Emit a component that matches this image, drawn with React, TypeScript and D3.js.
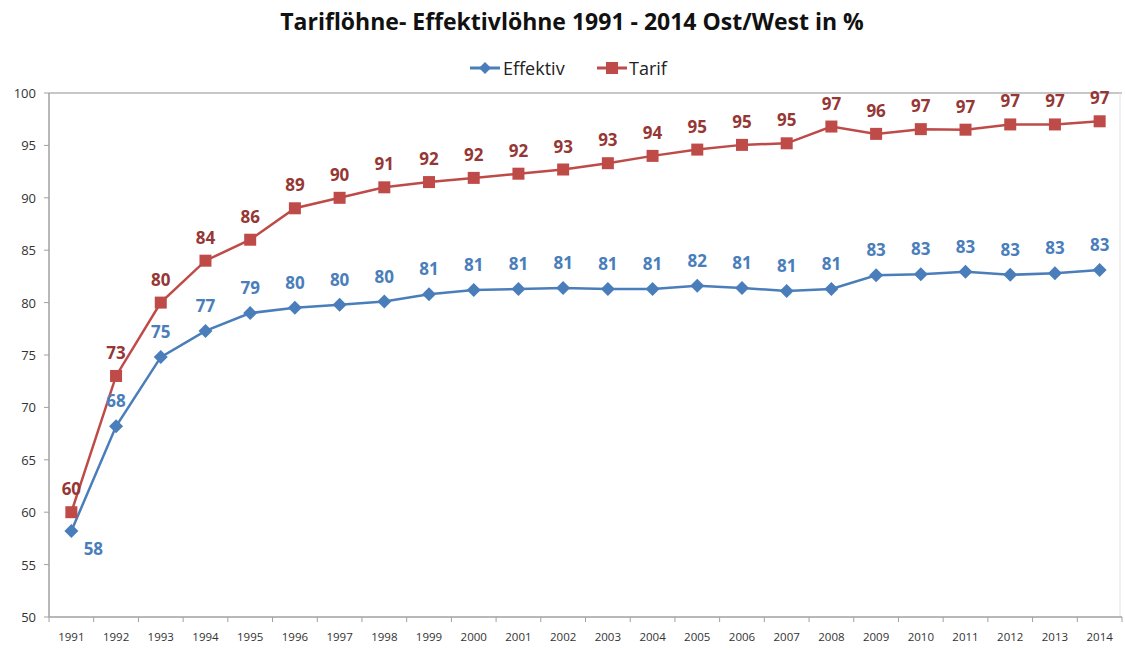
import React from "react";
import * as d3 from "d3";

const years = [
  "1991", "1992", "1993", "1994", "1995", "1996", "1997", "1998", "1999", "2000", "2001", "2002",
  "2003", "2004", "2005", "2006", "2007", "2008", "2009", "2010", "2011", "2012", "2013", "2014",
];
const effektiv = [
  58.2, 68.2, 74.8, 77.3, 79.0, 79.5, 79.8, 80.1, 80.8, 81.2, 81.3, 81.4,
  81.3, 81.3, 81.6, 81.4, 81.1, 81.3, 82.6, 82.7, 82.95, 82.65, 82.8, 83.1,
];
const tarif = [
  60.0, 73.0, 80.0, 84.0, 86.0, 89.0, 90.0, 91.0, 91.5, 91.9, 92.3, 92.7,
  93.3, 94.0, 94.6, 95.05, 95.2, 96.8, 96.1, 96.55, 96.5, 97.0, 97.0, 97.3,
];
const yTicks = [50, 55, 60, 65, 70, 75, 80, 85, 90, 95, 100];

const W = 1125;
const H = 650;
const left = 49;
const right = 1122;
const top = 93;
const bottom = 617;

const blue = "#4a7ebb";
const red = "#be4b48";
const redText = "#953735";
const font = "'Open Sans', 'Noto Sans', sans-serif";

const x = d3.scaleBand<string>().domain(years).range([left, right]);
const y = d3.scaleLinear().domain([50, 100]).range([bottom, top]);
const cx = (yr: string) => (x(yr) as number) + x.bandwidth() / 2;

const line = d3
  .line<number>()
  .x((_, i) => cx(years[i]))
  .y((v) => y(v));

const diamond = (px: number, py: number, r: number) =>
  `M${px},${py - r}L${px + r},${py}L${px},${py + r}L${px - r},${py}Z`;

export default function App() {
  return (
    <svg width={W} height={H} style={{ display: "block", position: "absolute", left: 0, top: 0, background: "#fff" }}>
      <text x={572} y={30} textAnchor="middle" fontFamily="'Liberation Sans Narrow', 'Open Sans', sans-serif" fontWeight="bold" fontSize={23} fill="#111">
        Tariflöhne- Effektivlöhne 1991 - 2014 Ost/West in %
      </text>

      {/* legend */}
      <g fontFamily={font} fontSize={18} fill="#222">
        <line x1={470} x2={500} y1={68} y2={68} stroke={blue} strokeWidth={3} />
        <path d={diamond(485, 68, 6)} fill={blue} />
        <text x={503} y={75}>Effektiv</text>
        <line x1={597} x2={627} y1={68} y2={68} stroke={red} strokeWidth={3} />
        <rect x={606} y={62} width={12} height={12} fill={red} />
        <text x={629} y={75}>Tarif</text>
      </g>

      {/* plot border */}
      <line x1={left} x2={right} y1={top} y2={top} stroke="#b5b5b5" strokeWidth={1.5} />
      <line x1={right - 2} x2={right - 2} y1={top} y2={bottom} stroke="#e3e3e3" strokeWidth={1} />

      {/* y axis */}
      <line x1={left} x2={left} y1={top} y2={bottom} stroke="#a0a0a0" strokeWidth={1.5} />
      {yTicks.map((t) => (
        <g key={t}>
          <line x1={left - 5} x2={left} y1={y(t)} y2={y(t)} stroke="#a0a0a0" />
          <text x={36} y={y(t) + 5} textAnchor="end" fontFamily={font} fontSize={13} fill="#333">
            {t}
          </text>
        </g>
      ))}

      {/* x axis */}
      <line x1={left} x2={right} y1={bottom} y2={bottom} stroke="#a0a0a0" strokeWidth={1.5} />
      {years.map((yr) => (
        <g key={yr}>
          <line x1={x(yr) as number} x2={x(yr) as number} y1={bottom} y2={bottom + 5} stroke="#a0a0a0" />
          <text x={cx(yr)} y={641} textAnchor="middle" fontFamily={font} fontSize={11.5} fill="#333">
            {yr}
          </text>
        </g>
      ))}
      <line x1={right} x2={right} y1={bottom} y2={bottom + 5} stroke="#a0a0a0" />

      {/* series */}
      <path d={line(tarif) as string} fill="none" stroke={red} strokeWidth={2.5} />
      <path d={line(effektiv) as string} fill="none" stroke={blue} strokeWidth={2.5} />

      {tarif.map((v, i) => (
        <rect key={"t" + i} x={cx(years[i]) - 6} y={y(v) - 6} width={12} height={12} fill={red} />
      ))}
      {effektiv.map((v, i) => (
        <path key={"e" + i} d={diamond(cx(years[i]), y(v), 7)} fill={blue} />
      ))}

      {/* labels */}
      <g fontFamily={font} fontWeight="bold" fontSize={17} textAnchor="middle">
        {tarif.map((v, i) => (
          <text key={"tl" + i} x={cx(years[i])} y={y(v) - 17} fill={redText}>
            {Math.round(v)}
          </text>
        ))}
        {effektiv.map((v, i) => (
          <text
            key={"el" + i}
            x={cx(years[i]) + (i === 0 ? 22 : 0)}
            y={i === 0 ? y(v) + 24 : y(v) - 19}
            fill={blue}
          >
            {Math.round(v)}
          </text>
        ))}
      </g>
    </svg>
  );
}
